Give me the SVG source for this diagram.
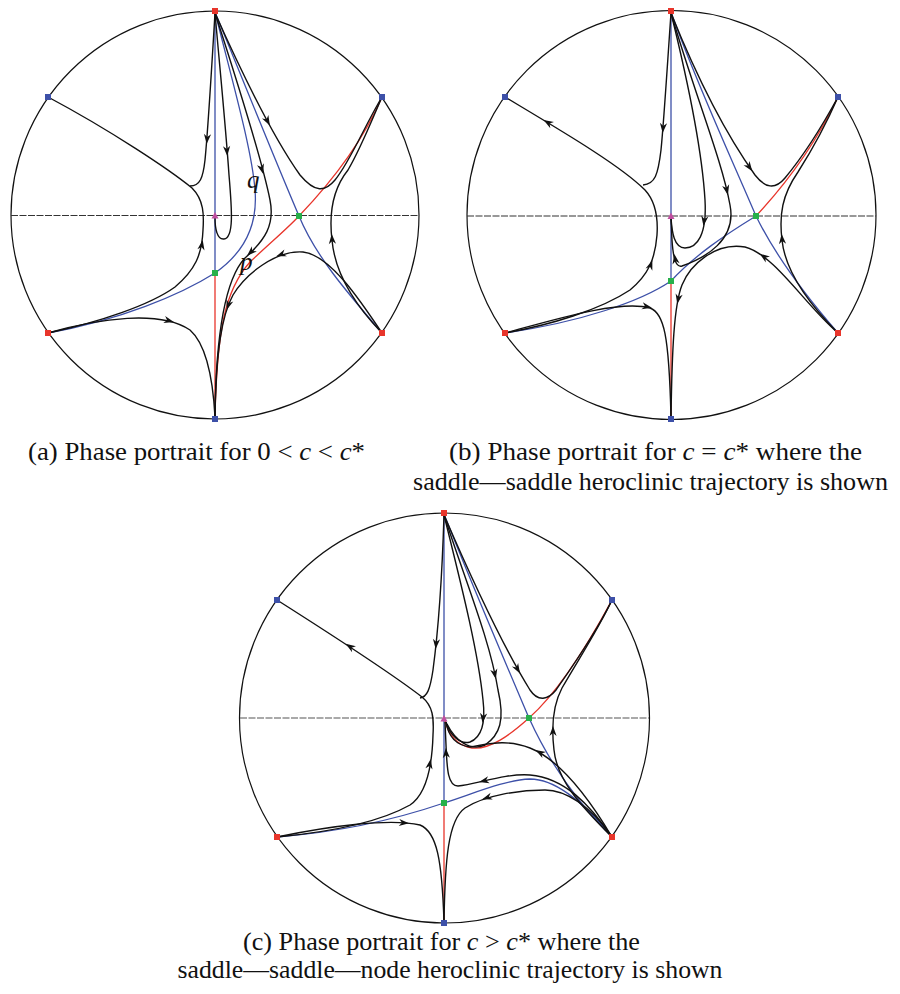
<svg xmlns="http://www.w3.org/2000/svg" xmlns:xlink="http://www.w3.org/1999/xlink" width="900" height="994" viewBox="0 0 900 994">
<style>
.circ{fill:none;stroke:#111;stroke-width:1.2}
.axis{fill:none;stroke:#333;stroke-width:1.1;stroke-dasharray:7,1.5}
.tr{fill:none;stroke:#111;stroke-width:1.4}
.bl{fill:none;stroke:#3d50a8;stroke-width:1.3}
.rd{fill:none;stroke:#e8352b;stroke-width:1.3}
.pr{fill:#e8352b}
.pb{fill:#3d50a8}
.pg{fill:#27b04a}
.pm{fill:#c04ea0}
.cap{font-family:"Liberation Serif","Times New Roman",serif;font-size:26px;fill:#111}
.it{font-style:italic}
.lab{font-family:"Liberation Serif","Times New Roman",serif;font-size:25px;font-style:italic;fill:#111}
</style>
<defs>
<path id="ah" d="M4,0 L-6,-3.6 L-3,0 L-6,3.6 Z" fill="#111"/>
</defs>
<rect width="900" height="994" fill="#fff"/>

<!-- Panel (a) -->
<g id="panel-a">
<circle class="circ" cx="215" cy="215" r="204"/>
<line class="axis" x1="11" y1="215.5" x2="419" y2="215.5"/>
<g id="a-connectors">
<path class="bl" d="M215,11 L215,273"/>
<path class="rd" d="M215,273 L215,419"/>
<path class="bl" d="M215,12 C245,85 275,160 299,216 C315,255 345,290 382,333"/>
<path class="rd" d="M215,417 C217,330 225,290 250,262 C270,243 288,228 299,216 C322,192 360,148 382,97"/>
<path class="bl" d="M215,12 C232,80 252,150 255,190 C258,225 245,252 215,273 C180,295 120,320 48,333"/>
<path class="tr" d="M48,97 C110,130 170,170 192,188 C204,200 204,215 203,230 C202,255 195,270 175,287 C150,305 100,322 48,333"/>
<path class="tr" d="M215,13 C211,80 208,130 205,160 C203,178 200,186 190,186"/>
<path class="tr" d="M215,13 C220,70 226,130 229,175 C232,210 234,238 224,239 C217,240 215,228 215,218"/>
<path class="tr" d="M215,13 C240,90 262,160 270,200 C275,225 265,240 245,258 C228,276 216,320 215,417"/>
<path class="tr" d="M215,13 C245,80 275,140 300,175 C315,193 325,192 335,180 C350,162 365,125 382,97"/>
<path class="tr" d="M382,333 C355,305 335,275 332,240 C329,215 332,190 348,170 C360,150 372,120 382,97"/>
<path class="tr" d="M382,333 C360,300 330,255 303,252 C275,250 245,275 233,295 C222,315 216,350 215,417"/>
<path class="tr" d="M48,333 C100,318 160,310 190,330 C207,345 213,380 215,417"/>
<use href="#ah" transform="translate(207,140) rotate(95)"/>
<use href="#ah" transform="translate(202,244) rotate(-80)"/>
<use href="#ah" transform="translate(227,152) rotate(86)"/>
<use href="#ah" transform="translate(262,170) rotate(75)"/>
<use href="#ah" transform="translate(250,253) rotate(136)"/>
<use href="#ah" transform="translate(268,122) rotate(62)"/>
<use href="#ah" transform="translate(332,238) rotate(-94)"/>
<use href="#ah" transform="translate(280,255) rotate(160)"/>
<use href="#ah" transform="translate(228,306) rotate(108)"/>
<use href="#ah" transform="translate(170,321) rotate(15)"/>
</g>
<text class="lab" x="247" y="188">q</text>
<text class="lab" x="240" y="270">p</text>
<g id="a-top"><rect class="pr" x="212" y="8" width="6" height="6"/></g>
<g id="a-bottom"><rect class="pb" x="212" y="416" width="6" height="6"/></g>
<g id="a-ul"><rect class="pb" x="45" y="94" width="6" height="6"/></g>
<g id="a-ur"><rect class="pb" x="379" y="94" width="6" height="6"/></g>
<g id="a-ll"><rect class="pr" x="45" y="330" width="6" height="6"/></g>
<g id="a-lr"><rect class="pr" x="379" y="330" width="6" height="6"/></g>
<g id="a-s1"><rect class="pg" x="296" y="213" width="6" height="6"/></g>
<g id="a-s2"><rect class="pg" x="212" y="270" width="6" height="6"/></g>
<g id="a-o"><path class="pm" d="M215,212 L218.5,218.5 L211.5,218.5 Z"/></g>
<text class="cap" x="196.5" y="460" text-anchor="middle" textLength="337" lengthAdjust="spacingAndGlyphs">(a) Phase portrait for 0 &lt; <tspan class="it">c</tspan> &lt; <tspan class="it">c</tspan>*</text>
</g>

<!-- Panel (b) -->
<g id="panel-b">
<circle class="circ" cx="671.5" cy="215" r="204.5"/>
<line class="axis" x1="467" y1="216" x2="876" y2="216"/>
<g id="b-connectors">
<path class="bl" d="M671,11 L671,281"/>
<path class="rd" d="M671,281 L671,419"/>
<path class="bl" d="M671,12 C695,80 730,155 756,216 C775,255 805,295 838,333"/>
<path class="rd" d="M756,216 C785,185 815,145 838,97"/>
<path class="bl" d="M756,216 C725,235 695,255 671,281 C640,302 580,322 505,333"/>
<path class="tr" d="M505,97 C560,130 620,165 645,190 C657,203 658,220 657,235 C655,260 648,275 630,290 C600,310 550,325 505,333"/>
<path class="tr" d="M671,13 C667,70 664,120 661,150 C658,175 655,184 643,185"/>
<path class="tr" d="M671,13 C690,90 702,150 705,200 C707,235 697,248 685,248 C674,248 672,232 671,218"/>
<path class="tr" d="M671,13 C695,95 722,160 730,205 C737,240 705,258 682,266 C675,268 673,255 672,240 L671,218"/>
<path class="tr" d="M671,13 C700,85 730,140 755,175 C765,188 775,190 785,178 C800,160 820,130 838,97"/>
<path class="tr" d="M838,333 C805,305 775,255 745,247 C715,242 690,265 682,285 C674,305 672,350 671,417"/>
<path class="tr" d="M838,333 C805,300 785,270 782,240 C779,215 782,195 798,172 C812,150 828,120 838,97"/>
<path class="tr" d="M505,333 C560,318 620,300 650,308 C664,313 669,335 671,417"/>
<use href="#ah" transform="translate(547,122) rotate(-149)"/>
<use href="#ah" transform="translate(651,264) rotate(-70)"/>
<use href="#ah" transform="translate(663,129) rotate(95)"/>
<use href="#ah" transform="translate(704,222) rotate(98)"/>
<use href="#ah" transform="translate(727,191) rotate(77)"/>
<use href="#ah" transform="translate(675,258) rotate(-100)"/>
<use href="#ah" transform="translate(750,168) rotate(55)"/>
<use href="#ah" transform="translate(763,256) rotate(-144)"/>
<use href="#ah" transform="translate(678,300) rotate(101)"/>
<use href="#ah" transform="translate(782,238) rotate(-95)"/>
<use href="#ah" transform="translate(648,307) rotate(12)"/>
</g>
<g id="b-top"><rect class="pr" x="668" y="8" width="6" height="6"/></g>
<g id="b-bottom"><rect class="pb" x="668" y="416" width="6" height="6"/></g>
<g id="b-ul"><rect class="pb" x="502" y="94" width="6" height="6"/></g>
<g id="b-ur"><rect class="pb" x="835" y="94" width="6" height="6"/></g>
<g id="b-ll"><rect class="pr" x="502" y="330" width="6" height="6"/></g>
<g id="b-lr"><rect class="pr" x="835" y="330" width="6" height="6"/></g>
<g id="b-s1"><rect class="pg" x="753" y="213" width="6" height="6"/></g>
<g id="b-s2"><rect class="pg" x="668" y="278" width="6" height="6"/></g>
<g id="b-o"><path class="pm" d="M671,212.5 L674.5,219 L667.5,219 Z"/></g>
<text class="cap" x="655.5" y="460" text-anchor="middle" textLength="413" lengthAdjust="spacingAndGlyphs">(b) Phase portrait for <tspan class="it">c</tspan> = <tspan class="it">c</tspan>* where the</text>
<text class="cap" x="650.5" y="490" text-anchor="middle" textLength="475" lengthAdjust="spacingAndGlyphs">saddle—saddle heroclinic trajectory is shown</text>
</g>

<!-- Panel (c) -->
<g id="panel-c">
<circle class="circ" cx="444.5" cy="718" r="205"/>
<line class="axis" x1="240" y1="718" x2="649" y2="718" style="stroke:#555"/>
<g id="c-connectors">
<path class="bl" d="M444,513 L444,803"/>
<path class="rd" d="M444,803 L444,923"/>
<path class="bl" d="M444,514 C470,580 500,650 529,718 C548,760 575,800 612,837"/>
<path class="rd" d="M529,718 C555,695 585,650 612,600"/>
<path class="rd" d="M529,718 C510,735 490,750 472,748 C458,746 448,735 445,720"/>
<path class="bl" d="M444,803 C400,818 340,832 277,837"/>
<path class="bl" d="M444,803 C475,793 505,780 530,779 C560,779 590,810 612,837"/>
<path class="tr" d="M277,600 C340,640 400,680 422,697 C433,706 434,718 433,735 C432,770 425,795 410,805 C380,822 330,832 277,837"/>
<path class="tr" d="M444,515 C442,580 437,640 433,670 C430,690 427,697 420,698"/>
<path class="tr" d="M444,515 C460,580 478,650 483,700 C486,725 480,738 470,742 C460,745 450,735 446,722"/>
<path class="tr" d="M444,515 C465,580 490,640 498,690 C505,720 500,735 485,745 C470,752 455,740 447,724"/>
<path class="tr" d="M444,515 C470,575 505,650 530,690 C538,702 548,700 556,690 C570,670 595,635 612,600"/>
<path class="tr" d="M612,837 C580,805 557,780 554,750 C551,725 553,705 562,688 C578,660 598,630 612,600"/>
<path class="tr" d="M612,837 C590,800 560,760 530,748 C505,738 485,745 470,747 C455,745 448,735 446,722"/>
<path class="tr" d="M612,837 C590,805 565,778 530,775 C505,773 475,785 458,786 C448,786 447,770 446,745 L445,722"/>
<path class="tr" d="M612,837 C590,805 565,790 545,790 C520,790 485,795 465,808 C448,820 445,860 444,922"/>
<path class="tr" d="M277,837 C330,826 390,818 420,825 C437,832 442,860 444,922"/>
<use href="#ah" transform="translate(349,646) rotate(-147)"/>
<use href="#ah" transform="translate(430,763) rotate(-80)"/>
<use href="#ah" transform="translate(436,645) rotate(95)"/>
<use href="#ah" transform="translate(483,719) rotate(96)"/>
<use href="#ah" transform="translate(495,675) rotate(78)"/>
<use href="#ah" transform="translate(518,670) rotate(60)"/>
<use href="#ah" transform="translate(553,730) rotate(-90)"/>
<use href="#ah" transform="translate(539,752) rotate(-150)"/>
<use href="#ah" transform="translate(483,781) rotate(167)"/>
<use href="#ah" transform="translate(446,752) rotate(-93)"/>
<use href="#ah" transform="translate(486,798) rotate(162)"/>
<use href="#ah" transform="translate(405,823) rotate(5)"/>
</g>
<g id="c-top"><rect class="pr" x="441" y="510" width="6" height="6"/></g>
<g id="c-bottom"><rect class="pb" x="441" y="920" width="6" height="6"/></g>
<g id="c-ul"><rect class="pb" x="274" y="597" width="6" height="6"/></g>
<g id="c-ur"><rect class="pb" x="609" y="597" width="6" height="6"/></g>
<g id="c-ll"><rect class="pr" x="274" y="834" width="6" height="6"/></g>
<g id="c-lr"><rect class="pr" x="609" y="834" width="6" height="6"/></g>
<g id="c-s1"><rect class="pg" x="526" y="715" width="6" height="6"/></g>
<g id="c-s2"><rect class="pg" x="441" y="800" width="6" height="6"/></g>
<g id="c-o"><path class="pm" d="M444,715 L447.5,721.5 L440.5,721.5 Z"/></g>
<text class="cap" x="441.5" y="950" text-anchor="middle" textLength="397" lengthAdjust="spacingAndGlyphs">(c) Phase portrait for <tspan class="it">c</tspan> &gt; <tspan class="it">c</tspan>* where the</text>
<text class="cap" x="450" y="978" text-anchor="middle" textLength="545" lengthAdjust="spacingAndGlyphs">saddle—saddle—node heroclinic trajectory is shown</text>
</g>
</svg>
